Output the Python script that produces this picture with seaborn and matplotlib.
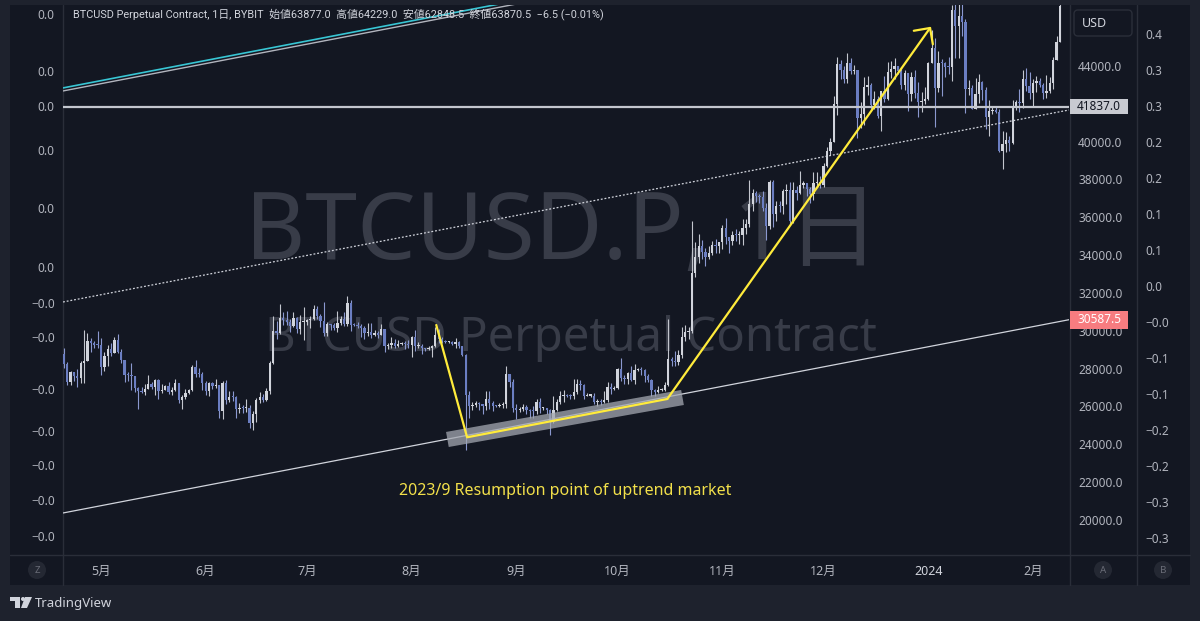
import matplotlib
matplotlib.use("Agg")
import matplotlib.pyplot as plt
import matplotlib.dates as mdates
from matplotlib.patches import Rectangle, Circle, FancyBboxPatch, Polygon
from matplotlib.transforms import blended_transform_factory
import numpy as np
import pandas as pd
import seaborn as sns

# ---- daily candles BTCUSD.P (Bybit), 2023-04-19 .. 2024-02-09 ----
first_open = 30390
closes = [
    28800, 28240, 27270, 27820, 27590, 27520, 28300, 28420, 29470, 29340, 29250, 29230,  # Apr
    28090, 28680, 29030, 28850, 29530, 28900, 28450, 27690, 27650, 27620, 26990, 26800, 26780, 26930, 27170, 27030,
    27400, 26830, 26890, 27100, 26750, 26850, 27230, 26330, 26480, 26720, 26870, 28080, 27740, 27700, 27220,  # May
    26820, 27250, 27080, 27120, 25760, 27240, 26350, 26500, 26480, 25850, 25940, 25900, 25920, 25120, 25580,
    26330, 26510, 26340, 26840, 28310, 30000, 29900, 30690, 30550, 30470, 30270, 30690, 30080, 30450, 30480,  # Jun
    30590, 30620, 31160, 30770, 30510, 29900, 30350, 30290, 30170, 30410, 30620, 30380, 31470, 30320, 30290, 30250,
    30140, 29860, 29920, 29800, 29910, 29800, 30080, 29180, 29230, 29350, 29210, 29320, 29350, 29280, 29230,  # Jul
    29700, 29180, 29190, 29110, 29060, 29090, 29200, 29770, 29580, 29440, 29400, 29420, 29290, 29410, 29180, 28700,
    26620, 26050, 26100, 26190, 26120, 26030, 26420, 26160, 26050, 26010, 26090, 26110, 27720, 27300, 25930,  # Aug
    25800, 25870, 25970, 25810, 25780, 25750, 26240, 25900, 25900, 25840, 25160, 25840, 26230, 26530, 26600,
    26570, 26530, 26760, 27210, 27130, 26570, 26580, 26580, 26250, 26300, 26220, 26350, 27020, 26910, 26970,  # Sep
    27990, 27510, 27430, 27790, 27410, 27950, 27970, 27940, 27590, 27390, 26870, 26760, 26860, 26860, 27160, 28520,
    28410, 28330, 28720, 29680, 29920, 29990, 33080, 33900, 34500, 34160, 33910, 34090, 34540, 34500, 34670,  # Oct
    35440, 34940, 34730, 35080, 35050, 35050, 35420, 35650, 36700, 37310, 37130, 37070, 36490, 35550, 37880,
    36160, 36600, 36580, 37390, 37470, 35810, 37420, 37290, 37720, 37800, 37480, 37250, 37830, 37860, 37720,  # Nov
    38690, 39480, 39980, 41990, 44080, 43770, 43290, 44170, 43730, 43790, 41240, 41450, 42890, 43020, 41940, 42280,
    41370, 42660, 42270, 43670, 43860, 43990, 43740, 43020, 43610, 42520, 43440, 42580, 42070, 42140, 42280,  # Dec
    44180, 44950, 42850, 44180, 44160, 43970, 43930, 46970, 46120, 46630, 46340, 42780, 42840, 41730, 42510, 43150,
    42740, 41280, 41620, 41660, 41580, 39500, 39850, 40080, 39930, 41810, 42120, 42030, 43300, 42940, 42580,  # Jan
    43080, 43190, 43000, 42580, 42660, 43090, 44340, 45290, 47150,  # Feb
]
highs = [
    30410, 29070, 28370, 27880, 27820, 28000, 28400, 30020, 29880, 29600, 29450, 29970,
    29600, 28880, 29260, 29370, 29700, 29850, 29020, 28450, 27830, 28320, 27620, 27050, 27040, 27200, 27650, 27280,
    27480, 27470, 27180, 27150, 27280, 27050, 27480, 27240, 26630, 26940, 26940, 28200, 28450, 28030, 27830,
    27350, 27300, 27320, 27450, 27130, 27350, 27380, 26800, 26800, 26540, 26200, 26080, 26420, 26080, 25750,
    26470, 26780, 26680, 26980, 28400, 30780, 30500, 31400, 31000, 31050, 30650, 31000, 30720, 30830, 31280,
    30650, 30800, 31380, 31330, 30880, 31500, 30450, 30380, 30430, 31030, 30800, 30980, 31820, 31630, 30400, 30450,
    30340, 30240, 30400, 30420, 30060, 30000, 30350, 30100, 29370, 29680, 29570, 29530, 29410, 29450, 29520,
    29730, 30050, 29410, 29310, 29110, 29180, 29250, 30200, 30100, 29700, 29520, 29450, 29450, 29640, 29470, 29220,
    28760, 26830, 26250, 26300, 26250, 26130, 26800, 26800, 26300, 26100, 26200, 26230, 28140, 27570, 27480,
    26130, 25980, 26120, 26100, 25880, 26000, 26420, 26440, 25960, 25930, 25890, 26540, 26390, 26830, 26880,
    26660, 26640, 27430, 27480, 27380, 27180, 26720, 26640, 26720, 26420, 26400, 26830, 27300, 27220, 27080,
    28050, 28580, 27690, 27850, 28130, 28270, 28030, 28100, 27990, 27740, 27480, 26940, 27100, 26980, 27300, 30600,
    28620, 28920, 29000, 30200, 30320, 30200, 35800, 34700, 35100, 34800, 34400, 34480, 34750, 34850, 34720,
    35580, 35980, 34950, 35280, 35380, 35280, 35900, 35900, 37950, 37520, 37400, 37250, 37400, 36780, 37980,
    37980, 36850, 36860, 37500, 37740, 37850, 37860, 37650, 38430, 37900, 37830, 37600, 38380, 38420, 38180,
    38850, 39700, 40200, 42400, 44450, 44300, 44000, 44700, 44400, 44050, 43800, 42100, 43400, 43450, 43100, 42700,
    42420, 42700, 43450, 44200, 44250, 44400, 44000, 43950, 43800, 43650, 43670, 43800, 43150, 42600, 42900,
    44200, 45900, 45500, 44780, 44350, 44200, 44470, 47250, 47900, 47700, 48970, 46500, 43250, 43000, 43350, 43580,
    43200, 42900, 42200, 41880, 41850, 41700, 40550, 40500, 40280, 42200, 42200, 42800, 43800, 43880, 43700,
    43300, 43480, 43380, 43100, 43500, 43400, 44500, 45600, 48200,
]
lows = [
    28650, 28010, 27130, 27150, 27350, 27050, 27220, 27250, 28380, 28900, 29100, 29080,
    27660, 27870, 28150, 28680, 28830, 28820, 28300, 27300, 27360, 26880, 26780, 25850, 26700, 26600, 26900, 26900,
    26620, 26420, 26700, 26850, 26680, 26620, 26830, 26180, 25880, 26420, 26650, 26800, 27560, 27560, 26880,
    26600, 26540, 26920, 26970, 25400, 25350, 26130, 26250, 26300, 25400, 25650, 25650, 25710, 24850, 24780,
    25170, 26200, 26250, 26280, 26660, 28270, 29550, 29820, 30300, 30300, 29950, 30220, 29870, 29850, 29500,
    30330, 30170, 30580, 30630, 30210, 29720, 29710, 30050, 30070, 29950, 30300, 30230, 30230, 29970, 30250, 30170,
    29700, 29570, 29710, 29600, 29740, 29600, 29780, 28900, 29060, 29110, 29090, 29160, 29260, 29060, 29110,
    28600, 28960, 29100, 28800, 28950, 28980, 28600, 29120, 29380, 29350, 29350, 29370, 29250, 29080, 29100, 28650,
    23700, 25400, 25800, 25980, 25820, 25600, 25800, 25850, 25780, 25970, 25980, 25930, 25930, 27050, 25700,
    25330, 25730, 25780, 25600, 25370, 25410, 25620, 25680, 25820, 25580, 24500, 25130, 25760, 26130, 26230,
    26480, 26400, 26390, 26680, 26860, 26390, 26530, 26510, 26130, 26030, 26080, 26200, 26250, 26680, 26850,
    26950, 27340, 27180, 27210, 27360, 27210, 27900, 27690, 27300, 27320, 26560, 26560, 26700, 26800, 26820, 27100,
    28120, 28150, 28170, 28580, 29480, 29560, 29870, 32850, 33600, 33820, 33450, 33800, 34000, 34100, 34130,
    34300, 34600, 34100, 34520, 34740, 34570, 34530, 35100, 35500, 36350, 36800, 36740, 36350, 34800, 35360,
    35500, 35800, 36270, 36180, 36700, 35630, 35700, 36900, 37250, 37570, 37130, 36750, 36900, 37590, 37560,
    37600, 38650, 39280, 39960, 41400, 43320, 43090, 43080, 43580, 43600, 40200, 40700, 40900, 42450, 41700, 41700,
    41250, 40550, 42100, 42200, 43350, 43300, 43600, 42800, 42750, 41600, 42150, 42300, 41300, 41550, 42000,
    42180, 44180, 40750, 42650, 42400, 43440, 43600, 43200, 44400, 44400, 45600, 41500, 42450, 41700, 41730, 42050,
    42200, 40680, 40300, 41450, 41500, 39450, 38550, 39450, 39500, 39850, 41650, 41580, 41800, 42690, 42280,
    41900, 42600, 42880, 42250, 42320, 42580, 42800, 44330, 45250,
]

month_ticks = ["2023-05-01", "2023-06-01", "2023-07-01", "2023-08-01", "2023-09-01",
               "2023-10-01", "2023-11-01", "2023-12-01", "2024-01-01", "2024-02-01"]
month_labels = ["5月", "6月", "7月", "8月", "9月", "10月", "11月", "12月", "2024", "2月"]
price_ticks = [20000, 22000, 24000, 26000, 28000, 30000, 32000, 34000, 36000, 38000, 40000, 44000]
b_ticks = [0.38, 0.33, 0.28, 0.23, 0.18, 0.13, 0.08, 0.03, -0.02, -0.07, -0.12, -0.17, -0.22, -0.27, -0.32]
left_labels = ["0.0", "0.0", "0.0", "0.0", "0.0", "0.0",
               "−0.0", "−0.0", "−0.0", "−0.0", "−0.0", "−0.0", "−0.0"]

# drawings (date, price)
hline_price = 41837.0
edge_dates = ["2023-04-19 18:00", "2024-02-11 16:00"]
cyan_prices = [42840, 53070]
grey_top_prices = [42680, 52880]
dotted_prices = [31525, 41674]
bottom_prices = [20371, 30587.5]
yellow_dates = ["2023-08-08 07:00", "2023-08-17 10:00", "2023-10-15 17:00", "2024-01-01 19:00"]
yellow_prices = [30309, 24373, 26398, 46077]
band_dates = ["2023-08-11 14:00", "2023-10-20 05:00"]
band_prices = [24257, 26477]
note_text = "2023/9 Resumption point of uptrend market"
note_pos = ("2023-09-15 14:00", 21535)
header = ("BTCUSD Perpetual Contract, 1日, BYBIT  始値63877.0  高値64229.0  "
          "安値62848.5  終値63870.5  −6.5 (−0.01%)")

# ---- style ----
PANEL = "#131722"
FRAME = "#1e222d"
SEP = "#2a2e39"
TXT = "#b2b5be"
UP, DN = "#d1d4dc", "#6b7ec2"
UP_W, DN_W = "#c3c6ce", "#8b98cf"
YEL = "#ffeb3b"

sns.set_theme(style="dark", rc={"axes.facecolor": PANEL, "figure.facecolor": FRAME,
                                "axes.grid": False})
plt.rcParams["font.family"] = ["Noto Sans", "Noto Sans CJK JP", "DejaVu Sans"]

W, H = 1200, 621
AX_L, AX_R, AX_T, AX_B = 63, 1069, 5, 555
YMIN, YMAX = 18150, 47224

fig = plt.figure(figsize=(W / 100, H / 100), dpi=100, facecolor=FRAME)

# chrome (pixel coordinates)
ov = fig.add_axes([0, 0, 1, 1], zorder=0)
ov.set_xlim(0, W)
ov.set_ylim(H, 0)
ov.axis("off")
ov.add_patch(Rectangle((10, 5), 1180, 580, fc=PANEL, ec="none"))
for xs in (63, 1070, 1137):
    ov.plot([xs, xs], [5, 585], color=SEP, lw=1)
ov.plot([10, 1190], [555, 555], color=SEP, lw=1)
for cx, letter in ((37, "Z"), (1103, "A"), (1163, "B")):
    ov.add_patch(Circle((cx, 570), 9, fc="#242833", ec="none"))
    ov.text(cx, 570.5, letter, ha="center", va="center", fontsize=7, color="#6a6d78")
ov.add_patch(FancyBboxPatch((1074, 10), 58, 26, boxstyle="round,pad=0,rounding_size=4",
                            fc=PANEL, ec=SEP, lw=1))
ov.text(1094, 23.5, "USD", ha="center", va="center", fontsize=9, color="#d1d4dc")
# TradingView logo
ov.add_patch(Rectangle((10, 597), 10, 4, fc="#d1d4dc", ec="none"))
ov.add_patch(Rectangle((14.5, 597), 5, 11, fc="#d1d4dc", ec="none"))
ov.add_patch(Circle((23, 599), 2, fc="#d1d4dc", ec="none"))
ov.add_patch(Polygon([(25, 597), (32, 597), (27, 608), (21, 608)], fc="#d1d4dc", ec="none"))
ov.text(35, 603, "TradingView", ha="left", va="center", fontsize=9.5, color="#d1d4dc")

# main price pane
ax = fig.add_axes([AX_L / W, 1 - AX_B / H, (AX_R - AX_L) / W, (AX_B - AX_T) / H], zorder=1)
ax.set_facecolor("none")
ax2 = ax.twinx()   # B scale (right)
ax3 = ax.twinx()   # left scale

dates = pd.date_range("2023-04-19", "2024-02-09", freq="D")
x = mdates.date2num(dates)
c = np.array(closes, dtype=float)
o = np.array([first_open] + closes[:-1], dtype=float)  # 24/7 market: open = prior close
h = np.array(highs, dtype=float)
l = np.array(lows, dtype=float)
up = c >= o
blo, bhi = np.minimum(o, c), np.maximum(o, c)

ax.vlines(x, np.minimum(l, blo), np.maximum(h, bhi), colors=np.where(up, UP_W, DN_W),
          lw=0.8, zorder=2)
ax.bar(x, np.maximum(bhi - blo, 55), bottom=blo, width=0.68,
       color=np.where(up, UP, DN), linewidth=0, zorder=3)

ex = mdates.date2num(pd.to_datetime(edge_dates))
ax.set_xlim(ex[0], ex[1])
ax.set_ylim(YMIN, YMAX)

# drawings
sns.lineplot(x=ex, y=cyan_prices, color="#38c6d4", lw=1.2, ax=ax, zorder=4)
sns.lineplot(x=ex, y=grey_top_prices, color="#b2b5be", lw=1.0, ax=ax, zorder=4)
sns.lineplot(x=ex, y=dotted_prices, color="#d1d4dc", lw=0.9, ls=(0, (1.5, 1.5)), ax=ax, zorder=4)
sns.lineplot(x=ex, y=bottom_prices, color="#d1d4dc", lw=0.9, ax=ax, zorder=4)
ax.axhline(hline_price, color="#c3c6ce", lw=1.6, zorder=4)

bx = mdates.date2num(pd.to_datetime(band_dates))
sns.lineplot(x=bx, y=band_prices, color="#a3a7b0", alpha=0.75, lw=11,
             solid_capstyle="butt", ax=ax, zorder=5)
yx = mdates.date2num(pd.to_datetime(yellow_dates))
sns.lineplot(x=yx[:3], y=yellow_prices[:3], sort=False, estimator=None, color=YEL,
             lw=1.6, ax=ax, zorder=6)
ax.annotate("", xy=(yx[3], yellow_prices[3]), xytext=(yx[2], yellow_prices[2]),
            arrowprops=dict(arrowstyle="->,head_length=0.6,head_width=0.6", color=YEL,
                            lw=1.6, shrinkA=0, shrinkB=0, mutation_scale=14), zorder=6)

ax.text(mdates.date2num(pd.Timestamp(note_pos[0])), note_pos[1], note_text,
        ha="center", va="center", fontsize=11.5, color="#f2e04a", zorder=6)

# watermark + header
ax.text(0.4965, 0.582, "BTCUSD.P, 1日", transform=ax.transAxes, ha="center", va="center",
        fontsize=67, color="#383c48", zorder=0)
ax.text(0.5045, 0.3945, "BTCUSD Perpetual Contract", transform=ax.transAxes, ha="center",
        va="center", fontsize=34, color="#383c48", zorder=0)
ax.text((73 - AX_L) / (AX_R - AX_L), (AX_B - 14) / (AX_B - AX_T), header, transform=ax.transAxes,
        ha="left", va="center", fontsize=7.85, color="#d1d4dc", zorder=7,
        family=["Roboto", "Noto Sans CJK JP", "DejaVu Sans"])

# axes styling
for a in (ax, ax2, ax3):
    a.grid(False)
    for s in a.spines.values():
        s.set_visible(False)

ax.set_yticks(price_ticks)
ax.set_yticklabels([f"{v:.1f}" for v in price_ticks])
ax.set_xticks(mdates.date2num(pd.to_datetime(month_ticks)))
ax.set_xticklabels(month_labels)
ax.tick_params(axis="x", length=0, pad=7, colors=TXT, labelsize=9)
ax.get_xticklabels()[8].set_fontweight("bold")
ax.get_xticklabels()[8].set_color("#d1d4dc")

# price labels on the scale
tr = blended_transform_factory(ax.transAxes, ax.transData)
ppx = (YMAX - YMIN) / (AX_B - AX_T)
fx = lambda px: (px - AX_L) / (AX_R - AX_L)
for price, fc, tc, hh in ((hline_price, "#c8cad1", PANEL, 15), (bottom_prices[1], "#f77c80", "#ffffff", 18)):
    ax.add_patch(Rectangle((fx(1070), price - hh / 2 * ppx), fx(1128) - fx(1070), hh * ppx,
                           transform=tr, clip_on=False, fc=fc, ec="none", zorder=8))
    ax.text(fx(1099), price, f"{price:.1f}", transform=tr, ha="center", va="center",
            fontsize=8.5, color=tc, clip_on=False, zorder=9)

# second right scale (B)
ax2.yaxis.tick_right()
ax2.set_ylim(-0.3436, 0.4203)
ax2.set_yticks(b_ticks)
ax2.set_yticklabels([f"{v:.1f}".replace("-", "−") for v in b_ticks])
ax2.tick_params(axis="y", length=0, pad=55, colors=TXT, labelsize=8.5)

# left scale
ax3.yaxis.tick_left()
ax3.set_ylim(AX_B, AX_T)
ax3.set_yticks([14, 71, 106, 150, 208, 267, 303, 337, 389, 431, 465, 500, 536])
ax3.set_yticklabels(left_labels)
ax3.tick_params(axis="y", length=0, pad=6, colors=TXT, labelsize=8.5)

# twinx moves the host ticks to the left; put the price scale back on the right
ax.yaxis.tick_right()
ax.tick_params(axis="y", length=0, pad=6.5, colors=TXT, labelsize=8.5)

fig.savefig("out.png", dpi=100, facecolor=FRAME)
